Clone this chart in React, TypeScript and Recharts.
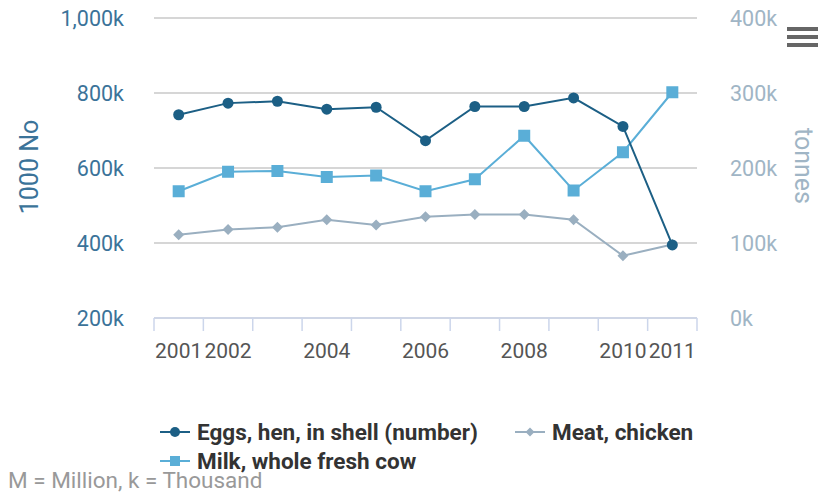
import { LineChart, Line, XAxis, YAxis, CartesianGrid } from 'recharts';

const years = ['2001', '2002', '2003', '2004', '2005', '2006', '2007', '2008', '2009', '2010', '2011'];
const eggs = [742, 773, 778, 757, 762, 673, 764, 764, 787, 711, 395];
const milk = [169, 195, 196, 188, 190, 169, 185, 243, 170, 221, 301];
const meat = [111, 118, 121, 131, 124, 135, 138, 138, 131, 83, 98];
const shownYears = ['2001', '2002', '2004', '2006', '2008', '2010', '2011'];
const leftTicks = [200000, 400000, 600000, 800000, 1000000];
const rightTicks = [0, 100000, 200000, 300000, 400000];

const data = years.map((year, i) => ({
  year,
  eggs: eggs[i] * 1000,
  milk: milk[i] * 1000,
  meat: meat[i] * 1000,
}));

const EGG = '#1c5f85';
const MILK = '#5aaed7';
const MEAT = '#9aafc0';
const FONT = 'Roboto, sans-serif';

const W = 818;
const H = 492;
const LEFT_W = 154;
const RIGHT_W = 121;
const BAND = (W - LEFT_W - RIGHT_W) / years.length;

const fmt = (v: number) => (v / 1000).toLocaleString('en-US') + 'k';

function XTick(props: any) {
  const { x, y, payload, index } = props;
  const last = index === years.length - 1;
  return (
    <g>
      <line x1={x - BAND / 2} x2={x - BAND / 2} y1={y} y2={y + 13} stroke="#ccd6eb" strokeWidth={1.5} />
      {last && <line x1={x + BAND / 2} x2={x + BAND / 2} y1={y} y2={y + 13} stroke="#ccd6eb" strokeWidth={1.5} />}
      {shownYears.includes(payload.value) && (
        <text x={x} y={y + 40} textAnchor="middle" fill="#555" fontSize={21} fontFamily={FONT}>
          {payload.value}
        </text>
      )}
    </g>
  );
}

const SquareDot = (p: any) => (
  <rect key={'m' + p.index} x={p.cx - 6} y={p.cy - 6} width={12} height={12} fill={MILK} />
);

const DiamondDot = (p: any) => (
  <polygon
    key={'d' + p.index}
    points={`${p.cx},${p.cy - 5.5} ${p.cx + 5.5},${p.cy} ${p.cx},${p.cy + 5.5} ${p.cx - 5.5},${p.cy}`}
    fill={MEAT}
  />
);

function LegendItem({ x, y, color, label, marker }: any) {
  return (
    <div style={{ position: 'absolute', left: x, top: y - 13, height: 26, display: 'flex', alignItems: 'center' }}>
      <svg width={32} height={24}>
        <line x1={0} x2={30} y1={12} y2={12} stroke={color} strokeWidth={2} />
        {marker === 'circle' && <circle cx={15} cy={12} r={5} fill={color} />}
        {marker === 'square' && <rect x={10} y={7} width={10} height={10} fill={color} />}
        {marker === 'diamond' && <polygon points="15,7.5 19.5,12 15,16.5 10.5,12" fill={color} />}
      </svg>
      <span style={{ marginLeft: 5, fontFamily: FONT, fontSize: 22.5, fontWeight: 'bold', color: '#333', whiteSpace: 'nowrap' }}>
        {label}
      </span>
    </div>
  );
}

export default function App() {
  return (
    <div style={{ position: 'absolute', left: 0, top: 0, width: W, height: H, overflow: 'hidden', background: '#fff' }}>
      <LineChart width={W} height={H} data={data} margin={{ top: 18, right: 0, bottom: 114, left: 0 }}>
        <CartesianGrid vertical={false} stroke="#c8c8c8" strokeWidth={1.5} yAxisId="left" />
        <XAxis
          dataKey="year"
          interval={0}
          tick={<XTick />}
          tickLine={false}
          tickSize={0}
          tickMargin={0}
          padding={{ left: BAND / 2, right: BAND / 2 }}
          axisLine={{ stroke: '#ccd6eb', strokeWidth: 1.5 }}
          height={60}
        />
        <YAxis
          yAxisId="left"
          width={LEFT_W}
          domain={[200000, 1000000]}
          ticks={leftTicks}
          tickFormatter={fmt}
          axisLine={false}
          tickLine={false}
          tickMargin={24}
          tick={{ fill: '#3b7399', fontSize: 21.5, fontFamily: FONT }}
        />
        <YAxis
          yAxisId="right"
          orientation="right"
          width={RIGHT_W}
          domain={[0, 400000]}
          ticks={rightTicks}
          tickFormatter={fmt}
          axisLine={false}
          tickLine={false}
          tickMargin={27}
          tick={{ fill: '#a0b5c5', fontSize: 21.5, fontFamily: FONT, textAnchor: 'start' }}
        />
        <Line
          yAxisId="right"
          dataKey="meat"
          stroke={MEAT}
          strokeWidth={2}
          dot={DiamondDot}
          isAnimationActive={false}
        />
        <Line
          yAxisId="right"
          dataKey="milk"
          stroke={MILK}
          strokeWidth={2}
          dot={SquareDot}
          isAnimationActive={false}
        />
        <Line
          yAxisId="left"
          dataKey="eggs"
          stroke={EGG}
          strokeWidth={2}
          dot={{ r: 5.5, fill: EGG, stroke: EGG, strokeWidth: 0 }}
          isAnimationActive={false}
        />
      </LineChart>

      <div style={{ position: 'absolute', left: 29, top: 167, transform: 'translate(-50%, -50%) rotate(-90deg)', fontFamily: FONT, fontSize: 25, color: '#3b7399', whiteSpace: 'nowrap' }}>
        1000 No
      </div>
      <div style={{ position: 'absolute', left: 803, top: 166, transform: 'translate(-50%, -50%) rotate(90deg)', fontFamily: FONT, fontSize: 25, color: '#a0b5c5', whiteSpace: 'nowrap' }}>
        tonnes
      </div>

      <div style={{ position: 'absolute', left: 787, top: 27 }}>
        <div style={{ width: 34, height: 4, background: '#666', marginBottom: 4 }} />
        <div style={{ width: 34, height: 4, background: '#666', marginBottom: 4 }} />
        <div style={{ width: 34, height: 4, background: '#666' }} />
      </div>

      <LegendItem x={160} y={432} color={EGG} marker="circle" label="Eggs, hen, in shell (number)" />
      <LegendItem x={515} y={432} color={MEAT} marker="diamond" label="Meat, chicken" />
      <LegendItem x={160} y={461} color={MILK} marker="square" label="Milk, whole fresh cow" />

      <div style={{ position: 'absolute', left: 8, top: 467, fontFamily: FONT, fontSize: 22.5, color: '#999', whiteSpace: 'nowrap' }}>
        M = Million, k = Thousand
      </div>
    </div>
  );
}
